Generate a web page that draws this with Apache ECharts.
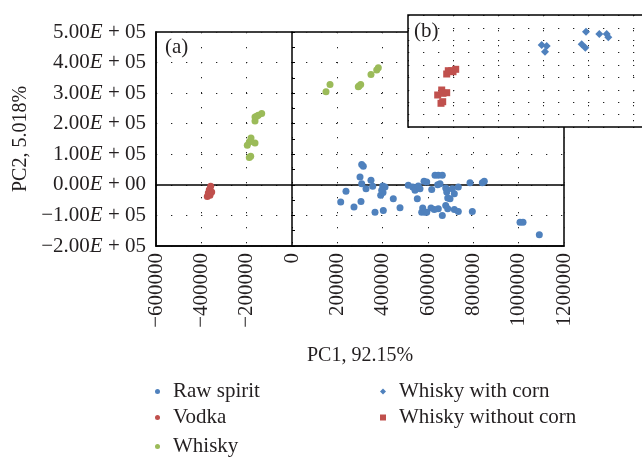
<!DOCTYPE html>
<html>
<head>
<meta charset="utf-8">
<script src="https://cdn.jsdelivr.net/npm/echarts@6/dist/echarts.min.js"></script>
<style>
  html, body { margin: 0; padding: 0; background: #fff; }
  #chart { width: 642px; height: 457px; }
</style>
</head>
<body>
<div id="chart"></div>
<script>
// main plot (a): [PC1, PC2]
const rawSpirit = [
  [307500, 66200], [314600, 60700], [300000, 25600], [307500, 3900], [348500, 14800],
  [356100, -4900], [326500, -12500], [238200, -21300], [214900, -56400], [273500, -72800],
  [304400, -54100], [366200, -89200], [402800, -83600], [446900, -45300], [476500, -74800],
  [400200, -3900], [410300, -7200], [395800, -18000], [391300, -34400], [401500, -24600],
  [513100, -1600], [532500, -7200], [542700, -18000], [557200, -3900], [564700, -12500],
  [552800, -45300], [576600, -76100], [572200, -89200], [586800, -89200], [582400, 11500],
  [594300, 9200], [616400, -14800], [630900, 31200], [645500, 31200], [663100, 31200],
  [642800, 700], [653000, 3900], [678100, -10500], [682500, -23600], [707200, -12500],
  [716100, -28900], [733700, -7200], [687000, -43300], [697100, -45300], [678100, -67200],
  [687000, -78000], [613300, -76100], [627800, -80300], [645500, -78000], [594300, -89200],
  [663100, -100000], [716100, -80300], [733700, -86900], [795500, -86900], [785300, 7200],
  [839600, 7200], [848400, 11500], [1005900, -122000], [1019200, -122000], [1091100, -163300]
];
const vodka = [
  [-358700, -4900], [-364900, -15700], [-369300, -26900], [-361800, -34400],
  [-354300, -23600], [-373700, -37700], [-366200, -27900]
];
const whisky = [
  [-133700, 233500], [-148700, 227900], [-163200, 222300], [-163200, 209200], [-155700, 224600],
  [-180900, 153500], [-188400, 140300], [-197200, 129500], [-163200, 137100], [-182200, 93500],
  [-188400, 89200], [150000, 304300], [167700, 328600], [292500, 320700], [303100, 328600],
  [295600, 323000], [348500, 361300], [373700, 375400], [380800, 383000]
];
// inset (b), no scale shown: relative units
const withCorn = [
  [133.7, 82], [138.7, 81], [137, 75.3], [178, 95.3], [173.7, 82.7],
  [177.3, 79.3], [191.3, 93], [198.7, 93], [200.3, 89.7]
];
const withoutCorn = [
  [38.7, 53], [40.3, 56.3], [43.7, 56.3], [47.7, 57.7], [45, 55.3], [29.7, 32],
  [33.7, 37], [38.7, 34.3], [35, 33.7], [33, 23.7], [34.7, 25.3]
];

const FONT = 'Liberation Serif';
const INK = '#231f20';
const BLUE = '#4f81bd';
const RED = '#c0504d';
const GREEN = '#9bbb59';
const dotted = { color: '#222', width: 1, type: [1.3, 13.7] };
const legendText = { fontFamily: FONT, fontSize: 21, color: INK, padding: [0, 0, 0, 8] };

// one legend per row, so nothing wraps
function legendRow(name, left, top, icon, size) {
  const l = {
    data: [name], left: left, top: top, padding: 0, selectedMode: false,
    itemWidth: size, itemHeight: size, textStyle: legendText
  };
  if (icon) l.icon = icon;
  return l;
}

const chart = echarts.init(document.getElementById('chart'));
const option = {
  animation: false,
  grid: [
    { left: 156, top: 32, width: 408, height: 214, show: true, borderColor: '#000', borderWidth: 1.5, z: 0 },
    // inset runs off the right edge, so its frame is drawn open on that side
    { left: 408, top: 15, width: 234, height: 112, show: true, backgroundColor: '#fff', borderWidth: 0, z: 10 }
  ],
  xAxis: [
    {
      gridIndex: 0, type: 'value', min: -600000, max: 1200000, interval: 200000,
      axisLine: { onZero: false, lineStyle: { color: '#000', width: 1.5 } },
      axisTick: { show: false },
      splitLine: { show: true, lineStyle: dotted },
      axisLabel: {
        rotate: 90, margin: 7, fontFamily: FONT, fontSize: 21, color: INK,
        formatter: function (v) { return v < 0 ? '\u2212' + Math.abs(v) : String(v); }
      },
      name: 'PC1, 92.15%', nameLocation: 'middle', nameGap: 100,
      nameTextStyle: { fontFamily: FONT, fontSize: 20, color: INK }
    },
    {
      gridIndex: 0, type: 'value', min: -600000, max: 1200000,
      axisLine: { onZero: true, lineStyle: { color: '#000', width: 1.5 } },
      axisTick: { show: false }, axisLabel: { show: false }, splitLine: { show: false }
    },
    {
      gridIndex: 1, type: 'value', min: 0, max: 234, interval: 45, z: 11,
      axisLine: { show: false }, axisTick: { show: false }, axisLabel: { show: false },
      splitLine: { show: true, lineStyle: dotted }
    }
  ],
  yAxis: [
    {
      gridIndex: 0, type: 'value', min: -200000, max: 500000, interval: 100000,
      axisLine: { onZero: false, lineStyle: { color: '#000', width: 1.5 } },
      axisTick: { show: false },
      splitLine: { show: true, lineStyle: dotted },
      axisLabel: {
        margin: 10, fontFamily: FONT, fontSize: 21, color: INK,
        formatter: function (v) {
          if (v === 0) return '0.00{e|E} + 00';
          const m = v / 100000;
          return (m < 0 ? '\u2212' : '') + Math.abs(m).toFixed(2) + '{e|E} + 05';
        },
        rich: { e: { fontFamily: FONT, fontSize: 21, fontStyle: 'italic', color: INK } }
      },
      name: 'PC2, 5.018%', nameLocation: 'middle', nameGap: 123,
      nameTextStyle: { fontFamily: FONT, fontSize: 20, color: INK }
    },
    {
      gridIndex: 0, type: 'value', min: -200000, max: 500000, interval: 100000,
      axisLine: { onZero: true, lineStyle: { color: '#000', width: 1.5 } },
      axisTick: { show: true, length: 3, lineStyle: { color: '#000' } },
      minorTick: { show: true, splitNumber: 2, length: 3, lineStyle: { color: '#000' } },
      axisLabel: { show: false }, splitLine: { show: false }
    },
    {
      gridIndex: 1, type: 'value', min: 0, max: 112, interval: 12.4, z: 11,
      axisLine: { show: false }, axisTick: { show: false }, axisLabel: { show: false },
      splitLine: { show: true, lineStyle: dotted }
    }
  ],
  legend: [
    legendRow('Raw spirit', 155, 381, 'circle', 5),
    legendRow('Vodka', 155, 407, 'circle', 5),
    legendRow('Whisky', 155, 436, 'circle', 5),
    legendRow('Whisky with corn', 380, 381, null, 6),
    legendRow('Whisky without corn', 380, 407, null, 6)
  ],
  graphic: [
    { type: 'text', left: 165, top: 37, z: 20, style: { text: '(a)', font: '21px "Liberation Serif"', fill: INK } },
    { type: 'text', left: 414, top: 21, z: 20, style: { text: '(b)', font: '21px "Liberation Serif"', fill: INK } },
    {
      type: 'polyline', z: 20,
      shape: { points: [[650, 15], [408, 15], [408, 127], [650, 127]] },
      style: { stroke: '#000', lineWidth: 1.5, fill: null }
    }
  ],
  series: [
    { name: 'Raw spirit', type: 'scatter', xAxisIndex: 0, yAxisIndex: 0, data: rawSpirit, symbol: 'circle', symbolSize: 7, itemStyle: { color: BLUE, opacity: 1 } },
    { name: 'Vodka', type: 'scatter', xAxisIndex: 0, yAxisIndex: 0, data: vodka, symbol: 'circle', symbolSize: 7, itemStyle: { color: RED, opacity: 1 } },
    { name: 'Whisky', type: 'scatter', xAxisIndex: 0, yAxisIndex: 0, data: whisky, symbol: 'circle', symbolSize: 7, itemStyle: { color: GREEN, opacity: 1 } },
    { name: 'Whisky with corn', type: 'scatter', xAxisIndex: 2, yAxisIndex: 2, z: 12, data: withCorn, symbol: 'diamond', symbolSize: 8, itemStyle: { color: BLUE, opacity: 1 } },
    { name: 'Whisky without corn', type: 'scatter', xAxisIndex: 2, yAxisIndex: 2, z: 12, data: withoutCorn, symbol: 'rect', symbolSize: 7, itemStyle: { color: RED, opacity: 1 } }
  ]
};
chart.setOption(option);
</script>
</body>
</html>
